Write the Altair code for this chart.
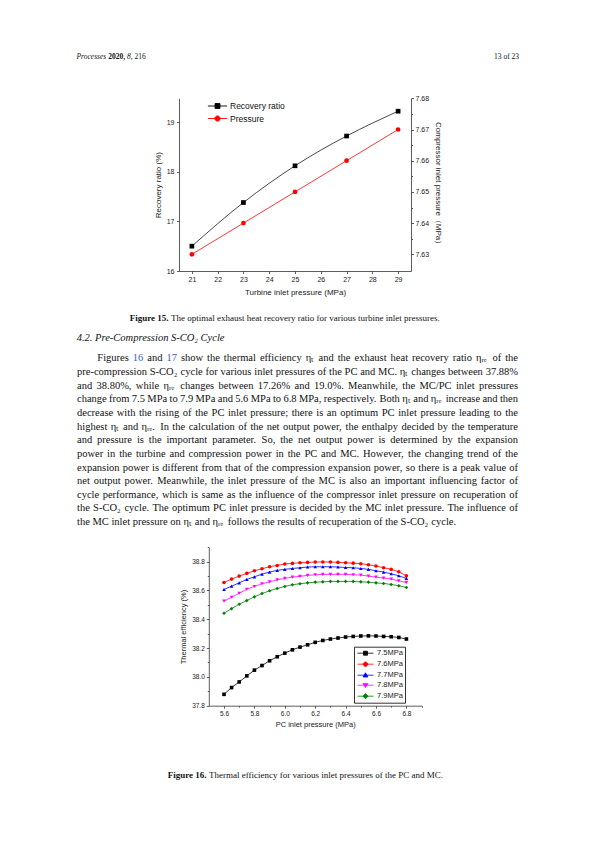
import altair as alt
import pandas as pd

# ---------------- data : Figure 15 ----------------
turbine_p = [21, 23, 25, 27, 29]
recovery_ratio = [16.50, 17.38, 18.12, 18.72, 19.22]
comp_pressure = [7.63, 7.64, 7.65, 7.66, 7.67]
fig15_series = ["Recovery ratio", "Pressure"]
fig15_x_ticks = [21, 21.5, 22, 22.5, 23, 23.5, 24, 24.5, 25, 25.5, 26, 26.5, 27, 27.5, 28, 28.5, 29]
fig15_yl_ticks = [16, 16.5, 17, 17.5, 18, 18.5, 19]
fig15_yr_ticks = [7.63, 7.635, 7.64, 7.645, 7.65, 7.655, 7.66, 7.665, 7.67, 7.675, 7.68]

# ---------------- data : Figure 16 ----------------
pc_inlet = [5.6, 5.65, 5.7, 5.75, 5.8, 5.85, 5.9, 5.95, 6.0, 6.05, 6.1, 6.15, 6.2,
            6.25, 6.3, 6.35, 6.4, 6.45, 6.5, 6.55, 6.6, 6.65, 6.7, 6.75, 6.8]
mc_labels = ["7.5MPa", "7.6MPa", "7.7MPa", "7.8MPa", "7.9MPa"]
eff_75 = [37.879, 37.926, 37.965, 38.007, 38.047, 38.079, 38.112, 38.140, 38.165, 38.188,
          38.207, 38.223, 38.240, 38.253, 38.263, 38.270, 38.277, 38.281, 38.284, 38.285,
          38.284, 38.281, 38.279, 38.274, 38.263]
eff_76 = [38.656, 38.679, 38.700, 38.719, 38.737, 38.751, 38.765, 38.774, 38.784, 38.788,
          38.793, 38.795, 38.798, 38.798, 38.798, 38.795, 38.793, 38.790, 38.786, 38.779,
          38.770, 38.758, 38.747, 38.730, 38.702]
eff_77 = [38.607, 38.630, 38.653, 38.677, 38.695, 38.714, 38.728, 38.740, 38.747, 38.753,
          38.758, 38.763, 38.765, 38.765, 38.765, 38.763, 38.760, 38.758, 38.753, 38.747,
          38.737, 38.728, 38.716, 38.702, 38.684]
eff_78 = [38.526, 38.553, 38.581, 38.609, 38.628, 38.647, 38.660, 38.674, 38.684, 38.693,
          38.698, 38.705, 38.709, 38.712, 38.712, 38.712, 38.712, 38.709, 38.707, 38.700,
          38.693, 38.686, 38.679, 38.667, 38.656]
eff_79 = [38.442, 38.474, 38.505, 38.530, 38.556, 38.579, 38.598, 38.614, 38.628, 38.640,
          38.647, 38.653, 38.658, 38.660, 38.663, 38.663, 38.663, 38.663, 38.660, 38.658,
          38.653, 38.649, 38.642, 38.633, 38.621]
fig16_x_ticks = [5.6, 5.7, 5.8, 5.9, 6.0, 6.1, 6.2, 6.3, 6.4, 6.5, 6.6, 6.7, 6.8, 6.9]
fig16_y_ticks = [37.8, 37.9, 38.0, 38.1, 38.2, 38.3, 38.4, 38.5, 38.6, 38.7, 38.8, 38.9]

# ---------------- page text ----------------
header_parts = ["Processes", "2020,", "8,", "216"]
header_page = "13 of 23"
cap15_label = "Figure 15."
cap15_text = "The optimal exhaust heat recovery ratio for various turbine inlet pressures."
section_heading = "4.2. Pre-Compression S-CO\u2082 Cycle"
para_lines = [
    "Figures 16 and 17 show the thermal efficiency \u03b7\u209c and the exhaust heat recovery ratio \u03b7\u1d63\u2091 of the",
    "pre-compression S-CO\u2082 cycle for various inlet pressures of the PC and MC. \u03b7\u209c changes between 37.88%",
    "and 38.80%, while \u03b7\u1d63\u2091 changes between 17.26% and 19.0%.  Meanwhile, the MC/PC inlet pressures",
    "change from 7.5 MPa to 7.9 MPa and 5.6 MPa to 6.8 MPa, respectively. Both \u03b7\u209c and \u03b7\u1d63\u2091 increase and then",
    "decrease with the rising of the PC inlet pressure; there is an optimum PC inlet pressure leading to the",
    "highest \u03b7\u209c and \u03b7\u1d63\u2091. In the calculation of the net output power, the enthalpy decided by the temperature",
    "and pressure is the important parameter. So, the net output power is determined by the expansion",
    "power in the turbine and compression power in the PC and MC. However, the changing trend of the",
    "expansion power is different from that of the compression expansion power, so there is a peak value of",
    "net output power. Meanwhile, the inlet pressure of the MC is also an important influencing factor of",
    "cycle performance, which is same as the influence of the compressor inlet pressure on recuperation of",
    "the S-CO\u2082 cycle. The optimum PC inlet pressure is decided by the MC inlet pressure. The influence of",
    "the MC inlet pressure on \u03b7\u209c and \u03b7\u1d63\u2091 follows the results of recuperation of the S-CO\u2082 cycle.",
]
para_links = [(0, 1), (0, 3)]          # (line, word) shown as blue cross-references
cap16_label = "Figure 16."
cap16_text = "Thermal efficiency for various inlet pressures of the PC and MC."

SERIF = "Liberation Serif"
SANS = "Liberation Sans"
INK = "#111"
LINK = "#3b63a8"
VIEW_W, VIEW_H = 579, 826      # whole page inside the 8px margin
M = 8                          # page margin (page px -> view px)

# Times-metric advance widths (1/1000 em) used to lay out justified text
TIMES_W = dict(zip(" !\"#$%&'()*+,-./:;<=>?@", [250, 333, 408, 500, 500, 833, 778, 333, 333, 333, 500, 564,
                                               250, 333, 250, 278, 278, 278, 564, 564, 564, 444, 921]))
TIMES_W.update({d: 500 for d in "0123456789"})
TIMES_W.update(dict(zip("ABCDEFGHIJKLMNOPQRSTUVWXYZ",
                        [722, 667, 667, 722, 611, 556, 722, 722, 333, 389, 722, 611, 889, 722, 722, 556,
                         722, 667, 556, 611, 722, 722, 944, 722, 722, 611])))
TIMES_W.update(dict(zip("abcdefghijklmnopqrstuvwxyz",
                        [444, 500, 444, 500, 444, 333, 500, 500, 278, 278, 500, 278, 778, 500, 500, 500,
                         500, 333, 389, 278, 500, 500, 722, 500, 500, 444])))
TIMES_W.update({"\u03b7": 500, "\u209c": 330, "\u1d63": 330, "\u2091": 360, "\u2082": 400})
TIMES_IT = {"P": 611, "r": 389, "o": 500, "c": 444, "e": 444, "s": 389, ",": 250}


def run_width(text, size, table=TIMES_W):
    return sum(table.get(ch, 500) for ch in text) * size / 1000.0


def text_layer(rows, **kw):
    df = pd.DataFrame([(x - M, y - M, t) for x, y, t in rows], columns=["x", "y", "t"])
    return alt.Chart(df).mark_text(baseline="middle", **kw).encode(
        x=alt.X("x:Q", scale=None, axis=None),
        y=alt.Y("y:Q", scale=None, axis=None),
        text="t:N",
    )


def ticks(major_test, big=2.5, small=1.5):
    return dict(tickSize={"condition": {"test": major_test, "value": big}, "value": small},
                labelExpr=f"({major_test}) ? datum.label : ''")


axis_common = dict(domainColor="#333", domainWidth=0.8, tickColor="#333", tickWidth=0.8,
                   labelFont=SANS, labelColor="#222", titleFont=SANS, titleColor="#222",
                   titleFontWeight="normal", grid=False)

# ---------------- running header ----------------
HFS = 7.5
hy = 57
hx = [76.5]
hx.append(hx[-1] + run_width(header_parts[0], HFS, TIMES_IT) + run_width(" ", HFS))
hx.append(hx[-1] + run_width(header_parts[1], HFS) + run_width(" ", HFS))
hx.append(hx[-1] + run_width(header_parts[2], HFS) + run_width(" ", HFS))
header = [
    text_layer([(hx[0], hy, header_parts[0]), (hx[2], hy, header_parts[2])],
               font=SERIF, fontSize=HFS, fontStyle="italic", align="left", color=INK),
    text_layer([(hx[1], hy, header_parts[1])],
               font=SERIF, fontSize=HFS, fontWeight="bold", align="left", color=INK),
    text_layer([(hx[3], hy, header_parts[3])], font=SERIF, fontSize=HFS, align="left", color=INK),
    text_layer([(519, hy, header_page)], font=SERIF, fontSize=HFS, align="right", color=INK),
]

# ---------------- Figure 15 (plot box in page px) ----------------
F15_L, F15_R, F15_T, F15_B = 179, 411, 98.3, 271
df15 = pd.DataFrame({"tp": turbine_p, "rr": recovery_ratio, "cp": comp_pressure})
x15 = alt.X("tp:Q", scale=alt.Scale(domain=[20.5, 29.5], range=[F15_L - M, F15_R - M], nice=False, zero=False),
            axis=alt.Axis(values=fig15_x_ticks, format="d", title="Turbine inlet pressure (MPa)",
                          orient="bottom", offset=(F15_B - M) - VIEW_H,
                          labelPadding=1.5, labelFontSize=7, titleFontSize=8, titlePadding=6,
                          **ticks("datum.value % 1 === 0"), **axis_common))
y15l = alt.Y("rr:Q", scale=alt.Scale(domain=[16, 19.48], range=[F15_B - M, F15_T - M], nice=False, zero=False),
             axis=alt.Axis(values=fig15_yl_ticks, format="d", title="Recovery ratio (%)", orient="left",
                           offset=-(F15_L - M), labelPadding=2.5, labelFontSize=7,
                           titleFontSize=8, titlePadding=4, **ticks("datum.value % 1 === 0"), **axis_common))
y15r = alt.Y("cp:Q", scale=alt.Scale(domain=[7.62465, 7.68], range=[F15_B - M, F15_T - M], nice=False, zero=False),
             axis=alt.Axis(values=fig15_yr_ticks, format=".2f", title="Compressor inlet pressure\uff08MPa\uff09",
                           orient="right", offset=(F15_R - M) - VIEW_W, labelPadding=1.5,
                           labelFontSize=7, titleFontSize=8, titlePadding=5,
                           **ticks("round(datum.value * 1000) % 10 === 0"), **axis_common))
rec_line = alt.Chart(df15).mark_line(color="#333", strokeWidth=0.9, interpolate="monotone").encode(x=x15, y=y15l)
rec_pts = alt.Chart(df15).mark_point(filled=True, shape="square", size=22, color="black", opacity=1).encode(x=x15, y=y15l)
pr_line = alt.Chart(df15).mark_line(color="#ff2020", strokeWidth=0.9).encode(x=x15, y=y15r)
pr_pts = alt.Chart(df15).mark_point(filled=True, shape="circle", size=22, color="#ff0000", opacity=1).encode(x=x15, y=y15r)

sym15 = ["M-2.4,0H2.4M-0.62,-0.62H0.62V0.62H-0.62Z",
         "M-2.4,0H2.4M-0.65,0A0.65,0.65,0,1,1,0.65,0A0.65,0.65,0,1,1,-0.65,0Z"]
col15 = ["#000000", "#ff0000"]
leg15 = alt.Legend(title=None, orient="none", legendX=205, legendY=93.5, symbolSize=64,
                   symbolStrokeWidth=0.9, labelFont=SANS, labelFontSize=8.5, labelColor=INK,
                   rowPadding=3.5, labelOffset=8, padding=0)
legend15_layer = alt.Chart(pd.DataFrame({"s15": fig15_series})).mark_point(
    filled=True, opacity=1, strokeWidth=0.9).encode(
    fill=alt.Fill("s15:N", scale=alt.Scale(domain=fig15_series, range=col15), legend=leg15),
    stroke=alt.Stroke("s15:N", scale=alt.Scale(domain=fig15_series, range=col15), legend=leg15),
    shape=alt.Shape("s15:N", scale=alt.Scale(domain=fig15_series, range=sym15), legend=leg15),
).transform_filter("false")

fig15 = alt.layer(
    alt.layer(rec_line, rec_pts),
    alt.layer(pr_line, pr_pts),
    legend15_layer,
).resolve_scale(y="independent")

# ---------------- caption 15, heading, justified paragraph ----------------
PFS = 10.5
LS = 13.65
LINE_Y0 = 358.3
TEXT_L, TEXT_R, INDENT = 77, 518, 20.3
word_rows = []
for li, line in enumerate(para_lines):
    words = line.split()
    widths = [run_width(w, PFS) for w in words]
    x0 = TEXT_L + (INDENT if li == 0 else 0)
    last = li == len(para_lines) - 1
    gap = run_width(" ", PFS) if last else (TEXT_R - x0 - sum(widths)) / (len(words) - 1)
    x = x0
    for wi, (w, wd) in enumerate(zip(words, widths)):
        word_rows.append((x - M, LINE_Y0 + LS * li - M, w, LINK if (li, wi) in para_links else INK))
        x += wd + gap
df_words = pd.DataFrame(word_rows, columns=["x", "y", "t", "c"])
paragraph = alt.Chart(df_words).mark_text(baseline="middle", align="left", font=SERIF, fontSize=PFS).encode(
    x=alt.X("x:Q", scale=None, axis=None),
    y=alt.Y("y:Q", scale=None, axis=None),
    text="t:N",
    color=alt.Color("c:N", scale=None, legend=None),
)
body = [
    text_layer([(168.5, 317.5, cap15_label)], font=SERIF, fontSize=9, fontWeight="bold",
               align="right", color=INK),
    text_layer([(171, 317.5, cap15_text)], font=SERIF, fontSize=9, align="left", color=INK),
    text_layer([(76.7, 338, section_heading)], font=SERIF, fontSize=PFS, fontStyle="italic",
               align="left", color=INK),
    paragraph,
    text_layer([(206.5, 775, cap16_label)], font=SERIF, fontSize=9, fontWeight="bold",
               align="right", color=INK),
    text_layer([(209, 775, cap16_text)], font=SERIF, fontSize=9, align="left", color=INK),
]

# ---------------- Figure 16 (plot box in page px) ----------------
F16_L, F16_R, F16_T, F16_B = 208.8, 421.6, 547.3, 705.7
series_vals = [eff_75, eff_76, eff_77, eff_78, eff_79]
recs = []
for lab, vals in zip(mc_labels, series_vals):
    for xv, yv in zip(pc_inlet, vals):
        recs.append({"pc": xv, "eff": yv, "mc": lab})
df16 = pd.DataFrame(recs)
col16 = ["#000000", "#ff0000", "#0000ff", "#ff00ff", "#008000"]
shp16 = ["square", "circle", "triangle-up", "triangle-down", "diamond"]
sym16 = ["M-2,0H2M-0.5,-0.5H0.5V0.5H-0.5Z",
         "M-2,0H2M-0.55,0A0.55,0.55,0,1,1,0.55,0A0.55,0.55,0,1,1,-0.55,0Z",
         "M-2,0H2M0,-0.6L0.6,0.45H-0.6Z",
         "M-2,0H2M0,0.6L0.6,-0.45H-0.6Z",
         "M-2,0H2M0,-0.65L0.65,0L0,0.65L-0.65,0Z"]
x16 = alt.X("pc:Q", scale=alt.Scale(domain=[5.5, 6.9], range=[F16_L - M, F16_R - M], nice=False, zero=False),
            axis=alt.Axis(values=fig16_x_ticks, format=".1f", title="PC inlet pressure (MPa)",
                          orient="bottom", offset=(F16_B - M) - VIEW_H,
                          labelPadding=2, labelFontSize=6.5, titleFontSize=7.5, titlePadding=3.5,
                          **ticks("round(datum.value * 10) % 2 === 0"), **axis_common))
y16 = alt.Y("eff:Q", scale=alt.Scale(domain=[37.8, 38.9], range=[F16_B - M, F16_T - M], nice=False, zero=False),
            axis=alt.Axis(values=fig16_y_ticks, format=".1f", title="Thermal efficiency (%)",
                          orient="left", offset=-(F16_L - M),
                          labelPadding=2, labelFontSize=6.5, titleFontSize=7.5, titlePadding=4,
                          **ticks("round(datum.value * 10) % 2 === 0"), **axis_common))
series16 = []
for lab, shp, col in zip(mc_labels, shp16, col16):
    sub = alt.Chart(df16).transform_filter(alt.datum.mc == lab)
    series16.append(sub.mark_line(strokeWidth=0.8, color=col).encode(x=x16, y=y16))
    series16.append(sub.mark_point(filled=True, size=13, opacity=1, shape=shp, color=col).encode(x=x16, y=y16))
leg16 = alt.Legend(title=None, orient="none", legendX=354 - M, legendY=646.7 - M, symbolSize=64,
                   symbolStrokeWidth=0.8, symbolOffset=5, labelFont=SANS, labelFontSize=7.5,
                   labelColor="#222", rowPadding=2, labelOffset=7, padding=2,
                   strokeColor="#333", fillColor="white")
legend16_layer = alt.Chart(pd.DataFrame({"s16": mc_labels})).mark_point(
    filled=True, opacity=1, strokeWidth=0.8).encode(
    fill=alt.Fill("s16:N", scale=alt.Scale(domain=mc_labels, range=col16), legend=leg16),
    stroke=alt.Stroke("s16:N", scale=alt.Scale(domain=mc_labels, range=col16), legend=leg16),
    shape=alt.Shape("s16:N", scale=alt.Scale(domain=mc_labels, range=sym16), legend=leg16),
).transform_filter("false")
fig16 = alt.layer(*series16, legend16_layer)

chart = alt.layer(
    *header, *body, fig15, fig16,
).resolve_scale(
    x="independent", y="independent", fill="independent", stroke="independent", shape="independent"
).properties(width=VIEW_W, height=VIEW_H, padding=0).configure_view(stroke=None)
chart.save("out.html", embed_options={"renderer": "svg", "actions": False})
